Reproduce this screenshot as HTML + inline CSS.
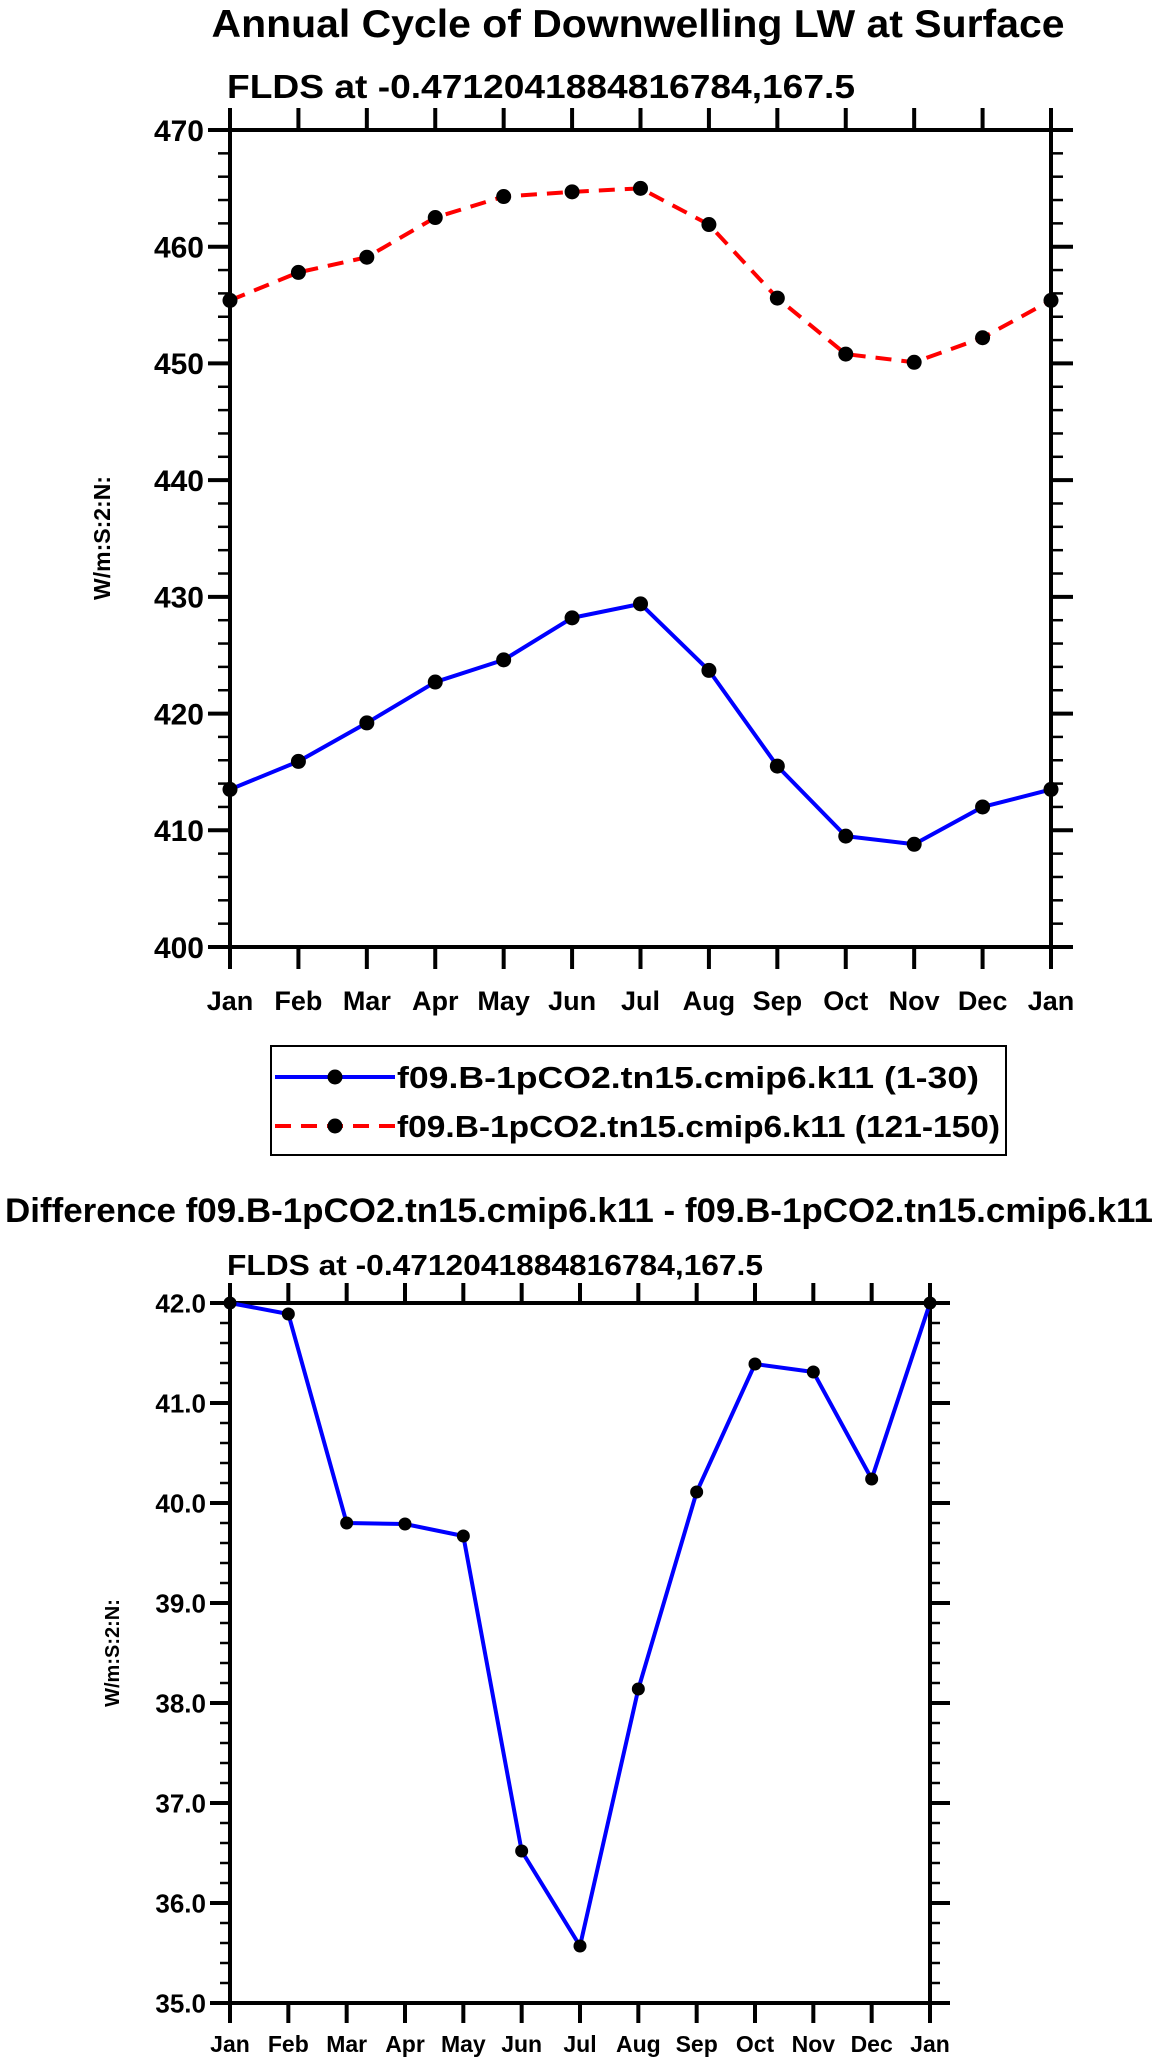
<!DOCTYPE html>
<html><head><meta charset="utf-8"><style>
html,body{margin:0;padding:0;background:#fff;}
svg{display:block;font-family:"Liberation Sans",Arial,sans-serif;font-weight:bold;}
</style></head><body>
<svg id="chart" width="1161" height="2067" viewBox="0 0 1161 2067" xmlns="http://www.w3.org/2000/svg">
<text x="638" y="37" font-size="39" text-anchor="middle" textLength="853" lengthAdjust="spacingAndGlyphs">Annual Cycle of Downwelling LW at Surface</text>
<text x="227" y="98" font-size="33" textLength="628" lengthAdjust="spacingAndGlyphs">FLDS at -0.4712041884816784,167.5</text>
<text transform="translate(110,538) rotate(-90)" font-size="23" text-anchor="middle">W/m:S:2:N:</text>
<g id="top"></g>
<g>
<rect x="271" y="1046" width="735" height="109" fill="none" stroke="#000" stroke-width="2"/>
<line x1="275" y1="1077" x2="395" y2="1077" stroke="#0000ff" stroke-width="4"/>
<circle cx="335" cy="1077" r="7.5" fill="#000"/>
<text x="397" y="1088" font-size="31" textLength="582" lengthAdjust="spacingAndGlyphs">f09.B-1pCO2.tn15.cmip6.k11 (1-30)</text>
<line x1="275" y1="1126" x2="395" y2="1126" stroke="#ff0000" stroke-width="4" stroke-dasharray="16,10"/>
<circle cx="335" cy="1126" r="7.5" fill="#000"/>
<text x="397" y="1137" font-size="31" textLength="603" lengthAdjust="spacingAndGlyphs">f09.B-1pCO2.tn15.cmip6.k11 (121-150)</text>
</g>
<text x="5" y="1222" font-size="34" textLength="1148" lengthAdjust="spacingAndGlyphs">Difference f09.B-1pCO2.tn15.cmip6.k11 - f09.B-1pCO2.tn15.cmip6.k11</text>
<text x="227" y="1275" font-size="29" textLength="536" lengthAdjust="spacingAndGlyphs">FLDS at -0.4712041884816784,167.5</text>
<text transform="translate(119,1653) rotate(-90)" font-size="20" text-anchor="middle">W/m:S:2:N:</text>
<g id="bot"></g>
</svg>
<script>
const months = ["Jan","Feb","Mar","Apr","May","Jun","Jul","Aug","Sep","Oct","Nov","Dec","Jan"];
const blueSeries = [413.5,415.9,419.2,422.7,424.6,428.2,429.4,423.7,415.5,409.5,408.8,412.0,413.5];
const redSeries = [455.4,457.8,459.1,462.5,464.3,464.7,465.0,461.9,455.6,450.8,450.1,452.2,455.4];
const diffSeries = [42.0,41.89,39.80,39.79,39.67,36.52,35.57,38.14,40.11,41.39,41.31,40.24,42.0];
const topTicks = [400,410,420,430,440,450,460,470];
const botTicks = [35,36,37,38,39,40,41,42];
const NS="http://www.w3.org/2000/svg";
function mk(parent,tag,attrs){const e=document.createElementNS(NS,tag);for(const k in attrs)e.setAttribute(k,attrs[k]);parent.appendChild(e);return e;}
function drawPanel(g,o){
  const xs=i=>o.L+(o.R-o.L)*i/(months.length-1);
  const ys=v=>o.B-(v-o.ymin)/(o.ymax-o.ymin)*(o.B-o.T);
  // minor ticks
  const nMinor=(o.ymax-o.ymin)/o.minor;
  for(let k=0;k<=nMinor;k++){const y=ys(o.ymin+k*o.minor);
    const l=mk(g,'line',{x1:o.L-o.mt,y1:y,x2:o.L,y2:y,stroke:'#000','stroke-width':2.5});
    
    
    const r=mk(g,'line',{x1:o.R,y1:y,x2:o.R+o.mt,y2:y,stroke:'#000','stroke-width':2.5});
    
    }
  o.ticks.forEach(v=>{const y=ys(v);
    mk(g,'line',{x1:o.L-o.Mt,y1:y,x2:o.L,y2:y,stroke:'#000','stroke-width':4});
    mk(g,'line',{x1:o.R,y1:y,x2:o.R+o.Mt,y2:y,stroke:'#000','stroke-width':4});
    const t=mk(g,'text',{x:o.L-o.Mt-4,y:y+o.fs*0.36,'font-size':o.fs,'text-anchor':'end'});
    t.textContent=o.fmt(v);
    
    });
  months.forEach((m,i)=>{const x=xs(i);
    mk(g,'line',{x1:x,y1:o.T-o.Mt,x2:x,y2:o.T,stroke:'#000','stroke-width':4});
    mk(g,'line',{x1:x,y1:o.B,x2:x,y2:o.B+o.Mt,stroke:'#000','stroke-width':4});
    const t=mk(g,'text',{x:x,y:o.xly,'font-size':o.xfs,'text-anchor':'middle'});
    t.textContent=m;
    
    });
  const fr=mk(g,'rect',{x:o.L,y:o.T,width:o.R-o.L,height:o.B-o.T,fill:'none',stroke:'#000','stroke-width':4});
  
  
  o.series.forEach(s=>{
    const p=mk(g,'polyline',{points:s.vals.map((v,i)=>xs(i)+','+ys(v)).join(' '),fill:'none',stroke:s.color,'stroke-width':4,'stroke-dasharray':s.dash||'none','stroke-linejoin':'round'});
    
    
    s.vals.forEach((v,i)=>{const c=mk(g,'circle',{cx:xs(i),cy:ys(v),r:o.mr,fill:'#000'});
      
      });
  });
}
drawPanel(document.getElementById('top'),{L:230,R:1051,T:130,B:947,ymin:400,ymax:470,minor:2,ticks:topTicks,mt:12,Mt:22,fs:30,xfs:27,xly:1010,mr:7.5,fmt:v=>String(v),
  series:[{vals:redSeries,color:'#ff0000',dash:'16,10',name:'series-121-150-line'},{vals:blueSeries,color:'#0000ff',name:'series-1-30-line'}]});
drawPanel(document.getElementById('bot'),{L:230,R:930,T:1303,B:2003,ymin:35,ymax:42,minor:0.2,ticks:botTicks,mt:10,Mt:20,fs:26,xfs:23,xly:2052,mr:6.5,fmt:v=>v.toFixed(1),
  series:[{vals:diffSeries,color:'#0000ff',name:'difference-line'}]});
</script>
</body></html>
